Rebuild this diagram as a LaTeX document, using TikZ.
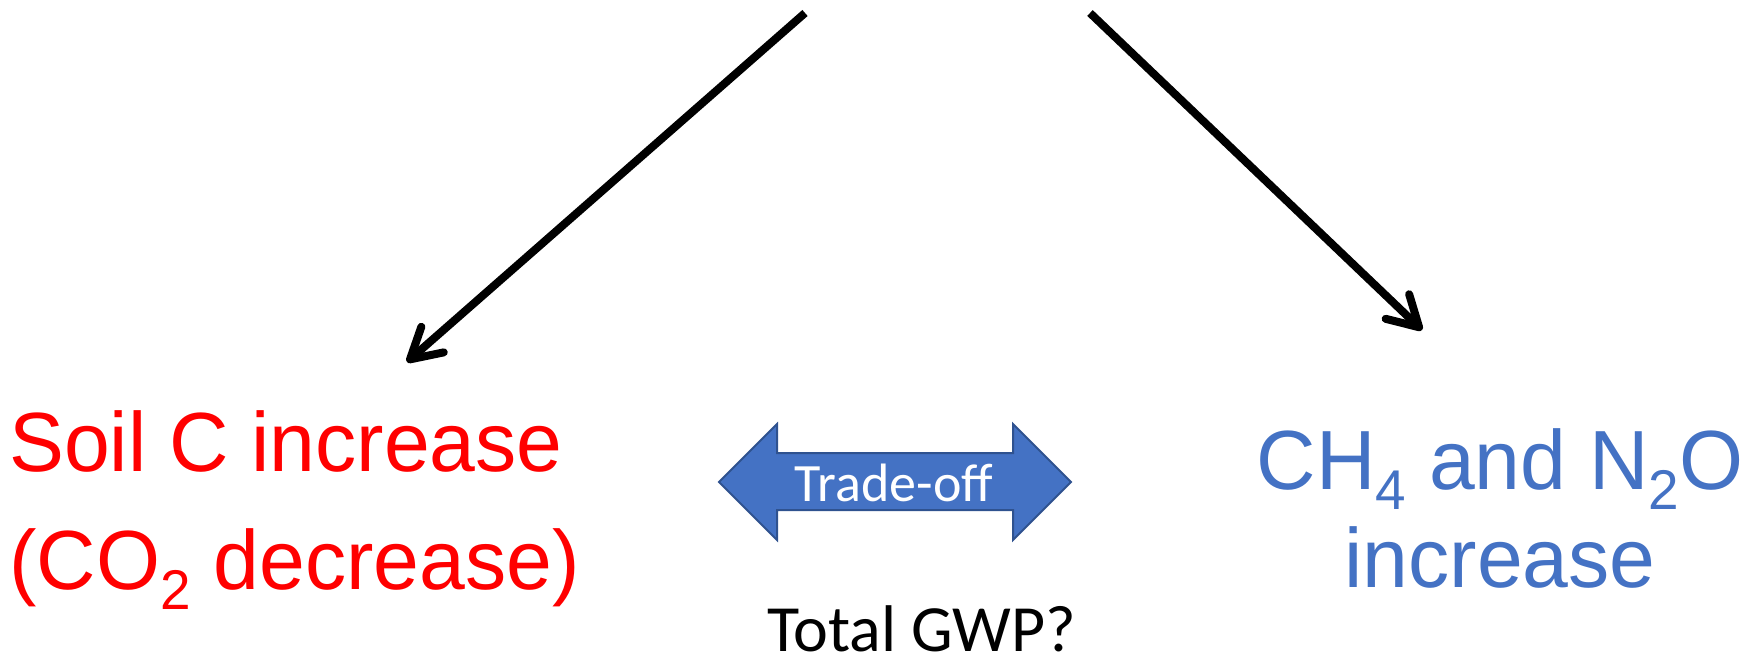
\documentclass[tikz,border=0pt]{standalone}
\usepackage{fontspec}
\usetikzlibrary{arrows.meta}
\newfontfamily\arialn[FakeStretch=0.98]{Liberation Sans}
\newfontfamily\calib{Carlito}
\definecolor{gasred}{HTML}{FF0000}
\definecolor{gasblue}{HTML}{4472C4}
\definecolor{arrowfill}{HTML}{4472C4}
\definecolor{arrowedge}{HTML}{2F528F}
% lowered, smaller digit for chemical formulas
\newcommand\lowsub[1]{\raisebox{-20pt}{\fontsize{56}{56}\selectfont #1}}
\tikzset{
  flow/.style={line width=8pt,
    -{Straight Barb[length=30pt,width=34pt,round]}},
  bigtext/.style={inner sep=0pt, font=\arialn\fontsize{84}{118}\selectfont},
  notetext/.style={inner sep=0pt, font=\calib\fontsize{66}{72}\selectfont},
}
\begin{document}
\begin{tikzpicture}[x=1pt,y=-1pt]
\useasboundingbox (0,0) rectangle (1749,664);

% outcome labels (anchored on the baseline of their last line)
\node[bigtext, text=gasred, anchor=base west, align=left] (soil) at (9,589)
  {Soil C increase\\(CO\lowsub{2} decrease)};
\node[bigtext, text=gasblue, anchor=base, align=center,
  font=\arialn\fontsize{84}{98}\selectfont] (gas) at (1500,587)
  {CH\lowsub{4} and N\lowsub{2}O\\increase};

% arrows from above
\coordinate (srcL) at (805,13);
\coordinate (srcR) at (1090,13);
\coordinate (tipL) at (407,362);
\coordinate (tipR) at (1422,330);
\draw[flow] (srcL) -- (tipL);
\draw[flow] (srcR) -- (tipR);

% two-headed trade-off arrow
\filldraw[fill=arrowfill, draw=arrowedge, line width=2pt, line join=miter]
  (719,482) -- (777,424) -- (777,453) -- (1013,453) -- (1013,424)
  -- (1071,482) -- (1013,540) -- (1013,510) -- (777,510) -- (777,540) -- cycle;
\node[inner sep=0pt, text=white, anchor=base,
  font=\calib\fontsize{54}{60}\selectfont] (trade) at (894,501) {Trade-off};

\node[notetext, anchor=base] (gwp) at (921.5,651) {Total GWP?};
\end{tikzpicture}
\end{document}
